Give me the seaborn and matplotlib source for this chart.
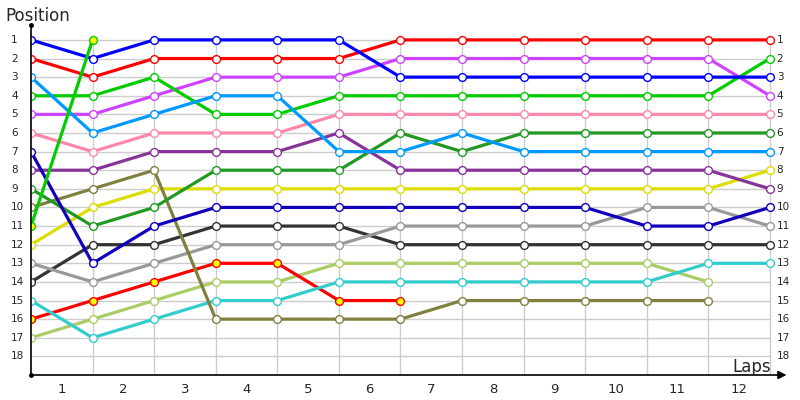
import matplotlib
matplotlib.use("Agg")
import matplotlib.pyplot as plt
import pandas as pd
import seaborn as sns

# position at the end of each lap (lap 0 = grid)
blue = [1, 2, 1, 1, 1, 1, 3, 3, 3, 3, 3, 3, 3]
red = [2, 3, 2, 2, 2, 2, 1, 1, 1, 1, 1, 1, 1]
light_blue = [3, 6, 5, 4, 4, 7, 7, 6, 7, 7, 7, 7, 7]
green = [4, 4, 3, 5, 5, 4, 4, 4, 4, 4, 4, 4, 2]
magenta = [5, 5, 4, 3, 3, 3, 2, 2, 2, 2, 2, 2, 4]
pink = [6, 7, 6, 6, 6, 5, 5, 5, 5, 5, 5, 5, 5]
dark_blue = [7, 13, 11, 10, 10, 10, 10, 10, 10, 10, 11, 11, 10]
purple = [8, 8, 7, 7, 7, 6, 8, 8, 8, 8, 8, 8, 9]
dark_green = [9, 11, 10, 8, 8, 8, 6, 7, 6, 6, 6, 6, 6]
olive = [10, 9, 8, 16, 16, 16, 16, 15, 15, 15, 15, 15]
green_2 = [11, 1]
yellow = [12, 10, 9, 9, 9, 9, 9, 9, 9, 9, 9, 9, 8]
gray = [13, 14, 13, 12, 12, 12, 11, 11, 11, 11, 10, 10, 11]
dark_gray = [14, 12, 12, 11, 11, 11, 12, 12, 12, 12, 12, 12, 12]
cyan = [15, 17, 16, 15, 15, 14, 14, 14, 14, 14, 14, 13, 13]
red_2 = [16, 15, 14, 13, 13, 15, 15]
light_green = [17, 16, 15, 14, 14, 13, 13, 13, 13, 13, 13, 14]

laps = list(range(13))
lap_labels = [str(i) for i in range(1, 13)]
positions = list(range(1, 19))

series = [
    ("light_green", light_green, "#aacc66", "white"),
    ("red_2", red_2, "#ff0000", "#ffff00"),
    ("cyan", cyan, "#33cccc", "white"),
    ("dark_gray", dark_gray, "#333333", "white"),
    ("gray", gray, "#999999", "white"),
    ("yellow", yellow, "#dddd00", "white"),
    ("olive", olive, "#808040", "white"),
    ("dark_green", dark_green, "#229922", "white"),
    ("purple", purple, "#883399", "white"),
    ("dark_blue", dark_blue, "#1100bb", "white"),
    ("pink", pink, "#ff88aa", "white"),
    ("magenta", magenta, "#cc44ff", "white"),
    ("green", green, "#00cc00", "white"),
    ("light_blue", light_blue, "#0099ff", "white"),
    ("red", red, "#ff0000", "white"),
    ("blue", blue, "#0000ff", "white"),
    ("green_2", green_2, "#00cc00", "#ffff00"),
]

rows = []
for name, vals, _, _ in series:
    for lap, pos in zip(laps, vals):
        rows.append({"driver": name, "lap": lap, "pos": pos})
df = pd.DataFrame(rows)

sns.set_style("white")
plt.rcParams["font.family"] = ["DejaVu Sans"]

fig = plt.figure(figsize=(8, 4), dpi=100)
ax = fig.add_axes([31 / 800, 25 / 400, 754 / 800, 350 / 400])
ax.set_xlim(0, 12.245)
ax.set_ylim(19, 0.2)

# grid
ax.hlines(positions, 0, 12, color="#cccccc", lw=1, zorder=0)
ax.vlines(laps[1:], 0.75, 19, color="#cccccc", lw=1, zorder=0)

for name, _, color, fill in series:
    sns.lineplot(
        data=df[df["driver"] == name], x="lap", y="pos", ax=ax,
        color=color, lw=2.3, marker="o", ms=5.6, mfc=fill, mec=color,
        mew=1, estimator=None, legend=False, zorder=3,
    )

for s in ax.spines.values():
    s.set_visible(False)
ax.set_xticks([])
ax.set_yticks([])
ax.set_xlabel("")
ax.set_ylabel("")

# axes with arrow / dots
ax.annotate("", xy=(12.27, 19), xytext=(0, 19), annotation_clip=False,
            arrowprops=dict(arrowstyle="-|>", color="black", lw=1.2,
                            mutation_scale=12, shrinkA=0, shrinkB=0))
ax.plot([0, 0], [19, 0.2], color="black", lw=1.2, clip_on=False, zorder=4)
ax.plot([0, 0], [0.2, 19], "o", color="black", ms=2.5, clip_on=False, zorder=4)

for p in positions:
    ax.text(-20 / 61.6, p, str(p), ha="left", va="center", fontsize=7.5,
            clip_on=False)
    ax.text(12.11, p, str(p), ha="left", va="center", fontsize=7.5,
            clip_on=False)

for i, lab in enumerate(lap_labels):
    ax.text(i + 0.5, 19.8, lab, ha="center", va="center", fontsize=9.5,
            clip_on=False)

fig.text(5 / 800, 384 / 400, "Position", fontsize=12, ha="left", va="center")
ax.text(11.7, 18.55, "Laps", fontsize=12, ha="center", va="center")

fig.savefig("out.png", dpi=100)
